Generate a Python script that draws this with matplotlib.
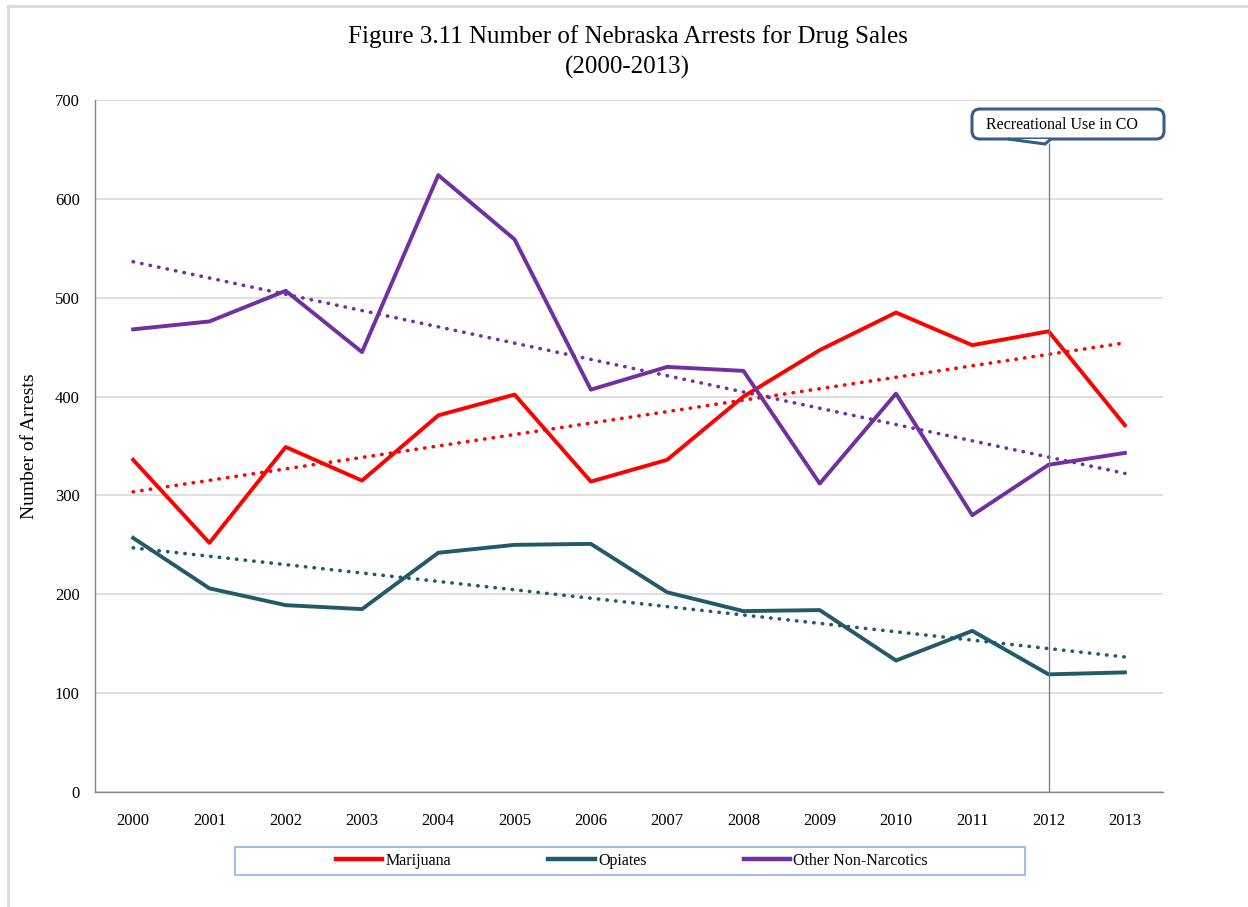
import numpy as np
import matplotlib
matplotlib.use('Agg')
import matplotlib.pyplot as plt
from matplotlib.lines import Line2D
from matplotlib.patches import FancyBboxPatch, Rectangle, Polygon
from matplotlib.transforms import IdentityTransform

plt.rcParams['font.family'] = ['Liberation Serif', 'DejaVu Serif']

years = [2000, 2001, 2002, 2003, 2004, 2005, 2006, 2007, 2008, 2009, 2010, 2011, 2012, 2013]
marijuana = [336, 252, 349, 315, 381, 402, 314, 336, 400, 447, 485, 452, 466, 371]
opiates = [257, 206, 189, 185, 242, 250, 251, 202, 183, 184, 133, 163, 119, 121]
other = [468, 476, 507, 445, 624, 559, 407, 430, 426, 312, 403, 280, 331, 343]
y_ticks = [0, 100, 200, 300, 400, 500, 600, 700]

c_mj = '#FF0000'
c_op = '#215A69'
c_ot = '#7030A0'

W, H = 1248, 907
fig = plt.figure(figsize=(W / 100, H / 100), dpi=100)
ax = fig.add_axes([95 / W, 1 - 792 / H, 1068 / W, 692 / H])

x = np.arange(len(years))
for vals, col in [(marijuana, c_mj), (opiates, c_op), (other, c_ot)]:
    ax.plot(x, vals, color=col, lw=2.8, zorder=3)
    # excel style linear trendline
    k, b = np.polyfit(x, vals, 1)
    ax.plot(x, k * x + b, color=col, lw=2.6, linestyle=(0, (0.1, 2.3)),
            dash_capstyle='round', zorder=2)

ax.set_xlim(-0.5, len(years) - 0.5)
ax.set_ylim(0, 700)
ax.set_yticks(y_ticks)
ax.set_xticks(x)
ax.set_xticklabels([str(y) for y in years])
ax.tick_params(length=0, labelsize=12, colors='#000000')
ax.tick_params(axis='x', pad=15)
ax.tick_params(axis='y', pad=11)
ax.grid(axis='y', color='#D9D9D9', lw=1.2)
ax.set_axisbelow(True)
for s in ['top', 'right']:
    ax.spines[s].set_visible(False)
for s in ['left', 'bottom']:
    ax.spines[s].set_color('#868686')
    ax.spines[s].set_linewidth(1.0)
ax.set_ylabel('Number of Arrests', fontsize=14, labelpad=12)

# recreational use marker (box drawn in pixel coords)
ax.vlines(12, 0, 657, color='#4A7EBB', lw=0.9, zorder=4)
ident = IdentityTransform()
box = FancyBboxPatch((972, H - 139), 192, 30, boxstyle='round,pad=0,rounding_size=8',
                     fc='white', ec='#385D8A', lw=2.2, transform=ident, zorder=6)
fig.add_artist(box)
notch = Polygon([(1008, H - 139), (1045, H - 144), (1051, H - 139)], closed=False,
                fc='white', ec='#385D8A', lw=2.2, transform=ident, zorder=7)
fig.add_artist(notch)
fig.text(1062 / W, 1 - 125 / H, 'Recreational Use in CO', ha='center', va='center',
         fontsize=11.5, zorder=8)

fig.text(0.503, 1 - 52 / H, 'Figure 3.11 Number of Nebraska Arrests for Drug Sales\n(2000-2013)',
         ha='center', va='center', fontsize=18, linespacing=1.4)

# legend frame + entries
fig.add_artist(Rectangle((235 / W, 1 - 875 / H), 790 / W, 28 / H, transform=fig.transFigure,
                         fc='none', ec='#8DB4E2', lw=1.2))
handles = [Line2D([], [], color=c, lw=3.2) for c in (c_mj, c_op, c_ot)]
fig.legend(handles, ['Marijuana', 'Opiates', 'Other Non-Narcotics'], ncol=3,
           loc='center', bbox_to_anchor=(632 / W, 1 - 861 / H), fontsize=11.5,
           frameon=False, handlelength=2.9, handletextpad=0.2, columnspacing=6.1)

# outer chart border
fig.add_artist(Line2D([8 / W, 1], [1 - 6 / H, 1 - 6 / H], color='#D9D9D9', lw=2))
fig.add_artist(Line2D([8 / W, 8 / W], [0, 1 - 6 / H], color='#D9D9D9', lw=2))

fig.savefig('out.png', dpi=100)
